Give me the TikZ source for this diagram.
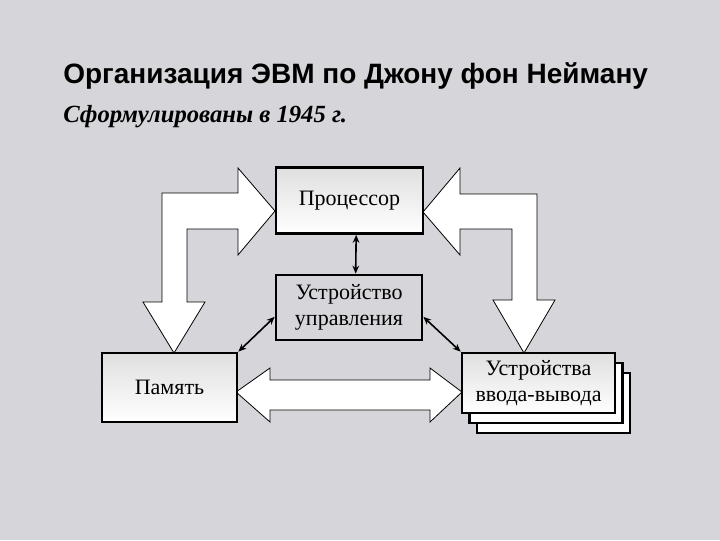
\documentclass[tikz,border=0pt]{standalone}
\usepackage{fontspec}
\setmainfont{Liberation Serif}
\newfontfamily\headfont{Liberation Sans}
\usetikzlibrary{arrows.meta}
\usetikzlibrary{calc}

\definecolor{marble}{RGB}{214,214,218}

\tikzset{
  box/.style={draw, line width=2pt, font=\fontsize{16.5}{19}\selectfont, align=center, inner sep=0pt},
  unit/.style={box, top color=gray!25, bottom color=white},
  blockarrow/.style={draw, fill=white, line width=0.6pt, line join=miter},
  link/.style={line width=1.2pt, {Stealth[length=6pt,width=5pt]}-{Stealth[length=6pt,width=5pt]}},
}

\begin{document}
\begin{tikzpicture}[x=0.75pt, y=-0.75pt]
  \fill[marble] (0,0) rectangle (720,540);
  \useasboundingbox (0,0) rectangle (720,540);

  % headings
  \node[anchor=base west, inner sep=0pt, font=\headfont\bfseries\fontsize{21}{24}\selectfont] (title) at (63,83) {Организация ЭВМ по Джону фон Нейману};
  \node[anchor=base west, inner sep=0pt, font=\bfseries\itshape\fontsize{18.5}{22}\selectfont] (sub) at (63,122) {Сформулированы в 1945 г.};

  % big arrows
  \draw[blockarrow] (275,211) -- (238,168) -- (238,193) -- (162,193) -- (162,302) -- (143,302)
    -- (174,353) -- (205,302) -- (187,302) -- (187,229) -- (238,229) -- (238,255) -- cycle;
  \draw[blockarrow] (423,212) -- (460,168) -- (460,194) -- (537,194) -- (537,300) -- (555,300)
    -- (524,353) -- (493,300) -- (512,300) -- (512,229) -- (460,229) -- (460,255) -- cycle;
  \draw[blockarrow] (236,392) -- (270,368) -- (270,380) -- (430,380) -- (430,368) -- (462,392)
    -- (430,422) -- (430,410) -- (270,410) -- (270,422) -- cycle;

  % units
  \node[unit, minimum width=110.25pt, minimum height=49.5pt] (proc) at (349.5,200.5) {Процессор};
  \node[box, minimum width=109.5pt, minimum height=48.75pt] (ctrl) at (349,307.5) {Устройство\\управления};
  \node[unit, minimum width=101.25pt, minimum height=51.75pt] (mem) at (169.5,387.5) {Память};
  \node[box, fill=white, minimum width=114.75pt, minimum height=45pt] (io3) at (553.5,403) {};
  \node[box, fill=white, minimum width=114.75pt, minimum height=45pt] (io2) at (546,393) {};
  \node[unit, minimum width=114.75pt, minimum height=45pt] (io) at (538.5,383) {Устройства\\ввода-вывода};

  % links
  \draw[link] ([xshift=5pt]proc.south) -- ([xshift=5pt]ctrl.north);
  \draw[link] ([yshift=-7pt]ctrl.west) -- (mem.north east);
  \draw[link] ([yshift=-7pt]ctrl.east) -- (io.north west);
\end{tikzpicture}
\end{document}
